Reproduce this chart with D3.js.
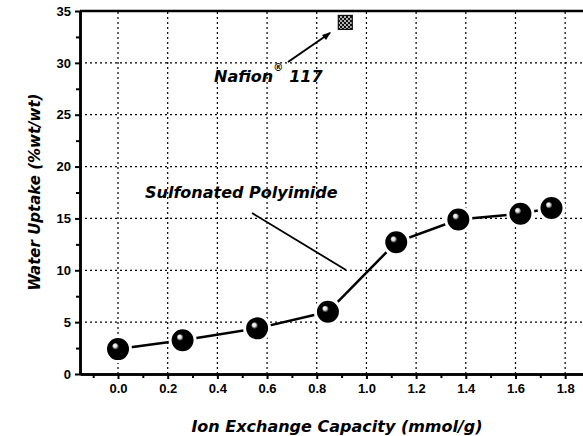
<!DOCTYPE html>
<meta charset="utf-8">
<style>
  body { margin: 0; background: #fff; }
  text { font-family: "Liberation Sans", Arial, sans-serif; font-weight: bold; fill: #000; }
  .heavy { font-family: "DejaVu Sans", sans-serif; font-style: italic; font-weight: bold; }
</style>
<svg width="583" height="436"></svg>
<script src="https://cdn.jsdelivr.net/npm/d3@7"></script>
<script>

// ion exchange capacity (mmol/g) vs water uptake (%wt/wt)
var iec = [0.0, 0.26, 0.56, 0.845, 1.12, 1.37, 1.62, 1.745];
var uptake = [2.4, 3.25, 4.4, 6.0, 12.7, 14.9, 15.45, 16.0];
var nafionIec = [0.915];
var nafionUptake = [33.9];
var xTicks = [0.0, 0.2, 0.4, 0.6, 0.8, 1.0, 1.2, 1.4, 1.6, 1.8];
var yTicks = [0, 5, 10, 15, 20, 25, 30, 35];

var svg = d3.select("svg");

var x = d3.scaleLinear().domain([-0.153, 1.9]).range([80, 590]);
var y = d3.scaleLinear().domain([0, 35]).range([374, 11]);

var defs = svg.append("defs");
var grad = defs.append("radialGradient")
    .attr("id", "ball")
    .attr("cx", "0.5").attr("cy", "0.5").attr("r", "0.5")
    .attr("fx", "0.36").attr("fy", "0.34");
grad.append("stop").attr("offset", "0").attr("stop-color", "#fff");
grad.append("stop").attr("offset", "0.14").attr("stop-color", "#ddd");
grad.append("stop").attr("offset", "0.28").attr("stop-color", "#000");
grad.append("stop").attr("offset", "1").attr("stop-color", "#000");

var pat = defs.append("pattern")
    .attr("id", "checks")
    .attr("patternUnits", "userSpaceOnUse")
    .attr("width", 4).attr("height", 4);
pat.append("rect").attr("width", 4).attr("height", 4).attr("fill", "#111");
pat.append("circle").attr("cx", 1).attr("cy", 1).attr("r", 0.9).attr("fill", "#fff");
pat.append("circle").attr("cx", 3).attr("cy", 3).attr("r", 0.9).attr("fill", "#fff");

// grid
svg.append("g")
  .selectAll("line")
  .data(xTicks)
  .enter().append("line")
    .attr("x1", function(d) { return x(d); })
    .attr("x2", function(d) { return x(d); })
    .attr("y1", y(0))
    .attr("y2", y(35))
    .attr("stroke", "#000")
    .attr("stroke-width", 1.2)
    .attr("stroke-dasharray", "2,3");

svg.append("g")
  .selectAll("line")
  .data(yTicks.filter(function(d) { return d > 0 && d < 35; }))
  .enter().append("line")
    .attr("x1", x.range()[0])
    .attr("x2", 583)
    .attr("y1", function(d) { return y(d); })
    .attr("y2", function(d) { return y(d); })
    .attr("stroke", "#000")
    .attr("stroke-width", 1.2)
    .attr("stroke-dasharray", "2,3");

// axes
svg.append("g")
    .attr("transform", "translate(0," + y(0) + ")")
    .call(d3.axisBottom(x).tickValues(xTicks).tickFormat(d3.format(".1f")).tickSizeInner(5).tickSizeOuter(0).tickPadding(5));
svg.append("g")
    .attr("transform", "translate(0," + y(0) + ")")
    .call(d3.axisBottom(x).tickValues(d3.range(-0.1, 1.95, 0.2)).tickFormat("").tickSize(4).tickSizeOuter(0));

svg.append("g")
    .attr("transform", "translate(" + x.range()[0] + ",0)")
    .call(d3.axisLeft(y).tickValues(yTicks).tickSizeInner(5).tickSizeOuter(0).tickPadding(4));
svg.append("g")
    .attr("transform", "translate(" + x.range()[0] + ",0)")
    .call(d3.axisLeft(y).tickValues(d3.range(2.5, 35, 5)).tickFormat("").tickSize(4).tickSizeOuter(0));

svg.selectAll(".domain").attr("stroke", "#000").attr("stroke-width", 2.5);
svg.selectAll(".tick line").attr("stroke", "#000").attr("stroke-width", 2);
svg.selectAll(".tick text").style("font-size", "13px").style("font-weight", "bold").attr("fill", "#000");

// top frame
svg.append("line")
    .attr("x1", x.range()[0]).attr("x2", 583)
    .attr("y1", y(35)).attr("y2", y(35))
    .attr("stroke", "#000").attr("stroke-width", 2.5);

// data line
var pts = iec.map(function(d, i) { return [x(d), y(uptake[i])]; });
svg.append("path")
    .attr("d", d3.line()(pts))
    .attr("fill", "none")
    .attr("stroke", "#000")
    .attr("stroke-width", 2.5);

svg.append("g")
  .selectAll("circle")
  .data(pts)
  .enter().append("circle")
    .attr("cx", function(d) { return d[0]; })
    .attr("cy", function(d) { return d[1]; })
    .attr("r", 12.5)
    .attr("fill", "url(#ball)")
    .attr("stroke", "#fff")
    .attr("stroke-width", 3);

// Nafion marker
svg.append("g")
  .selectAll("rect")
  .data(nafionIec)
  .enter().append("rect")
    .attr("x", function(d) { return x(d) - 7; })
    .attr("y", function(d, i) { return y(nafionUptake[i]) - 7; })
    .attr("width", 14)
    .attr("height", 14)
    .attr("fill", "url(#checks)")
    .attr("stroke", "#111")
    .attr("stroke-width", 1.2);

// annotations
svg.append("line")
    .attr("x1", 288).attr("y1", 62).attr("x2", 330).attr("y2", 33)
    .attr("stroke", "#000").attr("stroke-width", 2);
svg.append("path")
    .attr("d", "M331,32 L322,35 L326,40 Z")
    .attr("fill", "#000");

var naf = svg.append("text")
    .attr("class", "heavy")
    .attr("x", 214).attr("y", 82)
    .style("font-size", "16px");
naf.append("tspan").text("Nafion");
naf.append("tspan").attr("dy", -11).style("font-size", "10px").text("®");
naf.append("tspan").attr("dy", 11).attr("dx", 6).text("117");

svg.append("text")
    .attr("class", "heavy")
    .attr("x", 145).attr("y", 198)
    .style("font-size", "16px")
    .text("Sulfonated Polyimide");

svg.append("line")
    .attr("x1", 252).attr("y1", 213).attr("x2", 346).attr("y2", 270)
    .attr("stroke", "#000").attr("stroke-width", 1.8);

// axis titles
svg.append("text")
    .attr("class", "heavy")
    .attr("x", 337).attr("y", 432)
    .attr("text-anchor", "middle")
    .style("font-size", "16px")
    .text("Ion Exchange Capacity (mmol/g)");

svg.append("text")
    .attr("class", "heavy")
    .attr("transform", "translate(40,192) rotate(-90)")
    .attr("text-anchor", "middle")
    .style("font-size", "15px")
    .text("Water Uptake (%wt/wt)");

</script>
